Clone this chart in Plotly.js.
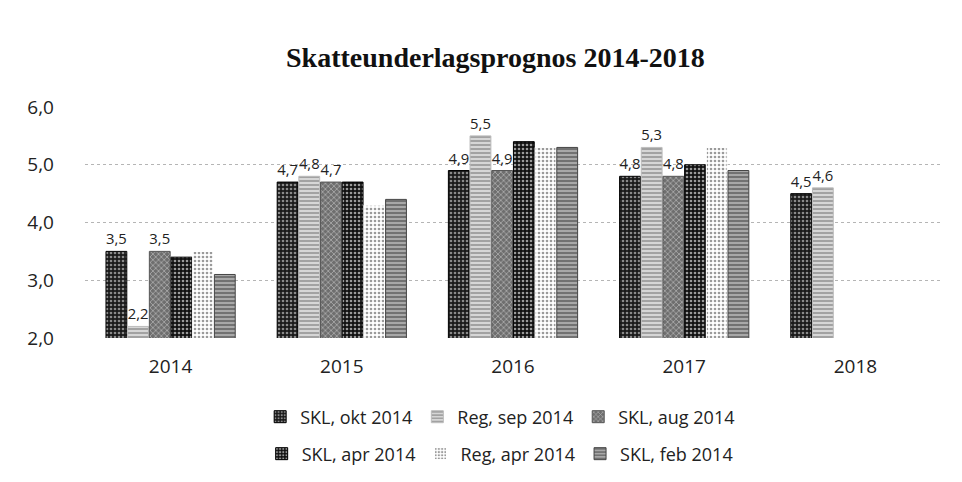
<!DOCTYPE html>
<html>
<head>
<meta charset="utf-8">
<script src="https://cdn.plot.ly/plotly-3.0.1.min.js"></script>
<style>html,body{margin:0;padding:0;background:#fff;}#chart{width:962px;height:482px;}</style>
</head>
<body>
<div id="chart"></div>
<script>
const years = ['2014', '2015', '2016', '2017', '2018'];
const sklOkt2014 = [3.5, 4.7, 4.9, 4.8, 4.5];
const regSep2014 = [2.2, 4.8, 5.5, 5.3, 4.6];
const sklAug2014 = [3.5, 4.7, 4.9, 4.8, null];
const sklApr2014 = [3.4, 4.7, 5.4, 5.0, null];
const regApr2014 = [3.5, 4.3, 5.3, 5.3, null];
const sklFeb2014 = [3.1, 4.4, 5.3, 4.9, null];
const seriesNames = ['SKL, okt 2014', 'Reg, sep 2014', 'SKL, aug 2014', 'SKL, apr 2014', 'Reg, apr 2014', 'SKL, feb 2014'];
const yTicks = [2, 3, 4, 5, 6];

const styles = [
  {bg: '#1a1a1a', fg: '#8a8a8a', shape: '.', line: '#000', label: true, legend: 'legend'},
  {bg: '#d6d6d6', fg: '#8c8c8c', shape: '-', line: '#bbb', label: true, legend: 'legend'},
  {bg: '#6e6e6e', fg: '#b0b0b0', shape: 'x', line: '#555', label: true, legend: 'legend'},
  {bg: '#111111', fg: '#9a9a9a', shape: '.', line: '#000', label: false, legend: 'legend2'},
  {bg: '#ffffff', fg: '#9a9a9a', shape: '.', line: '#ffffff', label: false, legend: 'legend2'},
  {bg: '#a8a8a8', fg: '#5a5a5a', shape: '-', line: '#444', label: false, legend: 'legend2'}
];
const values = [sklOkt2014, regSep2014, sklAug2014, sklApr2014, regApr2014, sklFeb2014];

const traces = values.map((v, i) => {
  const s = styles[i];
  const t = {
    type: 'bar',
    name: seriesNames[i],
    x: years,
    y: v,
    base: 0,
    legend: s.legend,
    marker: {
      color: s.bg,
      line: {color: s.line, width: 1},
      pattern: {shape: s.shape, bgcolor: s.bg, fgcolor: s.fg, size: 4, solidity: 0.35}
    },
    hoverinfo: 'x+y+name'
  };
  if (s.label) {
    t.texttemplate = '%{y:.1f}';
    t.textposition = 'outside';
    t.cliponaxis = false;
    t.textfont = {family: 'Open Sans, sans-serif', size: 15, color: '#222'};
  } else {
    t.textposition = 'none';
  }
  return t;
});

const legendFont = {family: 'Open Sans, sans-serif', size: 18, color: '#222'};

const layout = {
  width: 962,
  height: 482,
  paper_bgcolor: '#fff',
  plot_bgcolor: '#fff',
  separators: ', ',
  margin: {l: 85, r: 21, t: 107, b: 144, autoexpand: false},
  title: {
    text: '<b>Skatteunderlagsprognos 2014-2018</b>',
    font: {family: 'Liberation Serif, DejaVu Serif, serif', size: 28, color: '#111'},
    x: 0.515, xanchor: 'center', y: 0.882, yanchor: 'middle'
  },
  barmode: 'group',
  bargap: 0.24,
  bargroupgap: 0.04,
  showlegend: true,
  xaxis: {
    type: 'category',
    showgrid: false,
    showline: false,
    zeroline: false,
    automargin: false,
    ticks: '',
    ticklabelstandoff: 15,
    tickfont: {family: 'Open Sans, sans-serif', size: 19, color: '#222'}
  },
  yaxis: {
    range: [2, 6],
    tickvals: yTicks,
    tickformat: '.1f',
    showgrid: true,
    gridcolor: '#b5b5b5',
    griddash: 'dot',
    gridwidth: 1,
    zeroline: false,
    showline: false,
    automargin: false,
    ticks: '',
    ticklabelstandoff: 30,
    tickfont: {family: 'Open Sans, sans-serif', size: 19, color: '#222'}
  },
  legend: {
    orientation: 'h',
    x: 0.485, xanchor: 'center',
    y: -0.342, yanchor: 'middle',
    font: legendFont,
    itemwidth: 30,
    traceorder: 'normal'
  },
  legend2: {
    orientation: 'h',
    x: 0.485, xanchor: 'center',
    y: -0.502, yanchor: 'middle',
    font: legendFont,
    itemwidth: 30,
    traceorder: 'normal'
  }
};

Plotly.newPlot('chart', traces, layout, {displayModeBar: false, staticPlot: true});
</script>
</body>
</html>
